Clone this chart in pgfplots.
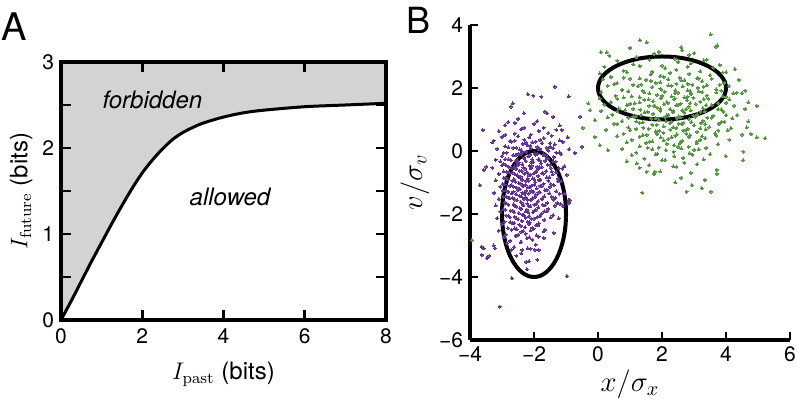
\documentclass[border=0pt]{standalone}
\usepackage{pgfplots}
\pgfplotsset{compat=1.18}
\usepackage{fontspec}
\setmainfont{TeX Gyre Heros}
\setmathrm{Latin Modern Roman}
\definecolor{clpurple}{RGB}{100,50,150}
\definecolor{clgreen}{RGB}{80,152,60}
\definecolor{clgray}{RGB}{211,211,211}

\pgfplotsset{
  every tick label/.append style={font=\fontsize{10.5}{12}\selectfont},
  /pgf/number format/assume math mode=true,
}

\begin{document}
\begin{tikzpicture}
% panel A
\begin{axis}[
    at={(30.5pt,40pt)}, anchor=south west,
    scale only axis, width=162.5pt, height=129pt,
    xmin=0, xmax=8, ymin=0, ymax=3,
    xtick={0,2,4,6,8}, ytick={0,1,2,3},
    minor ytick={0.5,1.5,2.5},
    axis on top,
    tick align=inside,
    major tick length=5pt, minor tick length=5pt,
    tick style={black, line width=1.4pt},
    axis line style={line width=2pt},
    xticklabel style={yshift=-1pt},
    xlabel={\fontsize{12}{14}\selectfont $I_\mathrm{past}$ (bits)},
    ylabel={\fontsize{12}{14}\selectfont $I_\mathrm{future}$ (bits)},
    xlabel style={yshift=-2pt},
    ylabel style={yshift=-2pt},
    clip=false,
]
% forbidden region
\addplot[fill=clgray, draw=none] coordinates {
    (0,0) (0.25,0.22) (0.5,0.45) (0.75,0.68) (1,0.9) (1.25,1.12) (1.5,1.33)
    (1.75,1.53) (2,1.71) (2.25,1.86) (2.5,1.99) (2.75,2.1) (3,2.18)
    (3.25,2.24) (3.5,2.29) (4,2.36) (4.5,2.41) (5,2.44) (6,2.48) (7,2.5)
    (8,2.52) (8,3) (0,3)
} -- cycle;
% bound
\addplot[black, line width=1.5pt, smooth] coordinates {
    (0,0) (0.25,0.22) (0.5,0.45) (0.75,0.68) (1,0.9) (1.25,1.12) (1.5,1.33)
    (1.75,1.53) (2,1.71) (2.25,1.86) (2.5,1.99) (2.75,2.1) (3,2.18)
    (3.25,2.24) (3.5,2.29) (4,2.36) (4.5,2.41) (5,2.44) (6,2.48) (7,2.5)
    (8,2.52)
};
\draw[black, line width=2pt] (rel axis cs:0,0) rectangle (rel axis cs:1,1);
\node[font=\fontsize{12}{14}\selectfont\itshape] at (axis cs:2.25,2.56) {forbidden};
\node[font=\fontsize{12}{14}\selectfont\itshape] at (axis cs:4.16,1.43) {allowed};
\end{axis}

% panel B
\begin{axis}[
    at={(235pt,30pt)}, anchor=south west,
    scale only axis, width=160pt, height=157.5pt,
    xmin=-4, xmax=6, ymin=-6, ymax=4,
    axis x line*=bottom, axis y line*=left,
    axis line style={line width=1.7pt, -},
    xtick={-4,-2,0,2,4,6}, ytick={-6,-4,-2,0,2,4},
    xticklabels={−4,−2,0,2,4,6}, yticklabels={−6,−4,−2,0,2,4},
    tick align=inside, major tick length=4pt,
    tick style={black, line width=1.4pt},
    xlabel={\fontsize{14}{16}\selectfont $x/\sigma_x$},
    ylabel={\fontsize{14}{16}\selectfont $v/\sigma_v$},
    xlabel style={yshift=3pt},
    ylabel style={yshift=-2pt},
    clip=false,
]
% cluster 1
\addplot[only marks, mark=*, mark size=0.75pt, color=clpurple, mark options={line width=0pt}] coordinates {
 (-2.5,1.02) (-1.9,0.95) (-1.4,1.08) (-2.8,0.92)
 (-2.9,0.82) (-2.3,0.73) (-2.0,0.86) (-1.7,0.74) (-1.2,0.81) (-2.6,0.89)
 (-3.1,0.63) (-2.6,0.55) (-2.4,0.69) (-2.1,0.52) (-1.85,0.64) (-1.55,0.57) (-1.3,0.67) (-2.9,0.51)
 (-3.0,0.45) (-2.75,0.31) (-2.5,0.47) (-2.3,0.36) (-2.15,0.43) (-1.95,0.3) (-1.7,0.41) (-1.45,0.49) (-1.2,0.34) (-0.95,0.44)
 (-3.3,0.27) (-2.9,0.15) (-2.7,0.29) (-2.55,0.11) (-2.35,0.23) (-2.2,0.18) (-2.05,0.28) (-1.9,0.13) (-1.75,0.25) (-1.6,0.1) (-1.35,0.21) (-1.1,0.29)
 (-3.15,0.07) (-2.85,-0.05) (-2.65,0.1) (-2.5,-0.09) (-2.4,0.03) (-2.25,-0.02) (-2.1,0.08) (-1.98,-0.07) (-1.85,0.05) (-1.7,-0.1) (-1.55,0.01) (-1.4,0.09) (-1.2,-0.04) (-0.9,0.06)
 (-3.2,-0.28) (-3.0,-0.16) (-2.8,-0.26) (-2.65,-0.13) (-2.52,-0.29) (-2.42,-0.11) (-2.3,-0.22) (-2.18,-0.17) (-2.06,-0.27) (-1.95,-0.12) (-1.82,-0.3) (-1.7,-0.14) (-1.55,-0.24) (-1.38,-0.19) (-1.15,-0.1)
 (-3.05,-0.33) (-2.88,-0.45) (-2.72,-0.3) (-2.6,-0.49) (-2.48,-0.37) (-2.36,-0.42) (-2.26,-0.32) (-2.14,-0.47) (-2.02,-0.35) (-1.9,-0.5) (-1.78,-0.39) (-1.65,-0.31) (-1.5,-0.44) (-1.32,-0.34) (-1.05,-0.48) (-2.95,-0.41)
 (-3.3,-0.53) (-2.95,-0.65) (-2.8,-0.5) (-2.66,-0.69) (-2.55,-0.57) (-2.45,-0.62) (-2.33,-0.52) (-2.22,-0.67) (-2.1,-0.55) (-2.0,-0.7) (-1.88,-0.59) (-1.76,-0.51) (-1.62,-0.64) (-1.48,-0.54) (-1.3,-0.68) (-1.12,-0.56)
 (-3.1,-0.73) (-2.9,-0.85) (-2.76,-0.7) (-2.63,-0.89) (-2.52,-0.77) (-2.41,-0.82) (-2.3,-0.72) (-2.2,-0.87) (-2.1,-0.75) (-1.99,-0.9) (-1.87,-0.79) (-1.75,-0.71) (-1.6,-0.84) (-1.42,-0.74) (-1.25,-0.88) (-0.98,-0.76)
 (-3.2,-0.93) (-2.98,-1.05) (-2.82,-0.9) (-2.7,-1.09) (-2.58,-0.97) (-2.47,-1.02) (-2.37,-0.92) (-2.27,-1.07) (-2.17,-0.95) (-2.07,-1.1) (-1.96,-0.99) (-1.84,-0.91) (-1.7,-1.04) (-1.55,-0.94) (-1.38,-1.08) (-1.15,-0.96)
 (-3.05,-1.13) (-2.88,-1.25) (-2.75,-1.1) (-2.64,-1.29) (-2.54,-1.17) (-2.44,-1.22) (-2.34,-1.12) (-2.24,-1.27) (-2.14,-1.15) (-2.03,-1.3) (-1.92,-1.19) (-1.8,-1.11) (-1.66,-1.24) (-1.5,-1.14) (-1.3,-1.28)
 (-3.25,-1.33) (-2.95,-1.45) (-2.8,-1.3) (-2.67,-1.49) (-2.56,-1.37) (-2.46,-1.42) (-2.36,-1.32) (-2.26,-1.47) (-2.16,-1.35) (-2.05,-1.5) (-1.94,-1.39) (-1.82,-1.31) (-1.68,-1.44) (-1.52,-1.34) (-1.33,-1.48) (-1.05,-1.36)
 (-3.1,-1.53) (-2.9,-1.65) (-2.76,-1.5) (-2.64,-1.69) (-2.53,-1.57) (-2.42,-1.62) (-2.32,-1.52) (-2.21,-1.67) (-2.1,-1.55) (-1.99,-1.7) (-1.87,-1.59) (-1.74,-1.51) (-1.58,-1.64) (-1.4,-1.54) (-1.18,-1.68) (-0.88,-1.56)
 (-3.2,-1.73) (-2.96,-1.85) (-2.8,-1.7) (-2.67,-1.89) (-2.55,-1.77) (-2.44,-1.82) (-2.33,-1.72) (-2.22,-1.87) (-2.11,-1.75) (-1.99,-1.9) (-1.86,-1.79) (-1.72,-1.71) (-1.55,-1.84) (-1.35,-1.74)
 (-3.05,-1.93) (-2.87,-2.05) (-2.73,-1.9) (-2.6,-2.09) (-2.48,-1.97) (-2.37,-2.02) (-2.26,-1.92) (-2.15,-2.07) (-2.03,-1.95) (-1.9,-2.1) (-1.76,-1.99) (-1.6,-1.91) (-1.4,-2.04)
 (-3.15,-2.13) (-2.92,-2.25) (-2.76,-2.1) (-2.62,-2.29) (-2.5,-2.17) (-2.38,-2.22) (-2.26,-2.12) (-2.13,-2.27) (-2.0,-2.15) (-1.85,-2.3) (-1.68,-2.19) (-1.48,-2.11)
 (-3.0,-2.33) (-2.82,-2.45) (-2.67,-2.3) (-2.54,-2.49) (-2.41,-2.37) (-2.28,-2.42) (-2.15,-2.32) (-2.01,-2.47) (-1.86,-2.35) (-1.66,-2.5)
 (-3.1,-2.53) (-2.88,-2.65) (-2.7,-2.5) (-2.55,-2.69) (-2.4,-2.57) (-2.26,-2.62) (-2.1,-2.52) (-1.92,-2.67) (-1.7,-2.55)
 (-2.95,-2.73) (-2.75,-2.85) (-2.57,-2.7) (-2.4,-2.89) (-2.22,-2.77) (-2.05,-2.82) (-1.85,-2.72)
 (-2.85,-2.93) (-2.62,-3.05) (-2.42,-2.9) (-2.2,-3.09) (-1.95,-2.97)
 (-2.7,-3.13) (-2.4,-3.25) (-2.1,-3.1)
 (-2.55,-3.33) (-1.9,-3.45)
 (-2.6,0.33) (-2.25,0.26) (-1.8,0.35) (-1.5,0.24)
 (-2.8,0.12) (-2.45,0.05) (-2.12,0.16) (-1.82,0.07) (-1.5,0.13)
 (-2.95,-0.06) (-2.58,-0.14) (-2.35,-0.03) (-2.12,-0.12) (-1.9,-0.08) (-1.62,-0.15) (-1.3,-0.05)
 (-2.9,-0.26) (-2.55,-0.34) (-2.31,-0.24) (-2.08,-0.35) (-1.86,-0.27) (-1.6,-0.22) (-1.4,-0.33)
 (-3.0,-0.46) (-2.7,-0.54) (-2.5,-0.44) (-2.28,-0.56) (-2.07,-0.47) (-1.84,-0.52) (-1.57,-0.43) (-1.22,-0.55)
 (-2.85,-0.66) (-2.6,-0.74) (-2.38,-0.64) (-2.16,-0.75) (-1.94,-0.67) (-1.7,-0.72) (-1.45,-0.65)
 (-2.95,-0.86) (-2.68,-0.94) (-2.46,-0.84) (-2.25,-0.95) (-2.04,-0.87) (-1.8,-0.92) (-1.52,-0.83) (-1.25,-0.96)
 (-2.92,-1.06) (-2.64,-1.14) (-2.41,-1.04) (-2.2,-1.15) (-1.99,-1.07) (-1.76,-1.12) (-1.48,-1.05)
 (-2.98,-1.26) (-2.7,-1.34) (-2.49,-1.24) (-2.29,-1.35) (-2.09,-1.27) (-1.87,-1.32) (-1.6,-1.23) (-1.2,-1.36)
 (-2.85,-1.46) (-2.6,-1.54) (-2.4,-1.44) (-2.2,-1.55) (-1.98,-1.47) (-1.75,-1.52) (-1.45,-1.45)
 (-2.88,-1.66) (-2.6,-1.74) (-2.38,-1.64) (-2.16,-1.75) (-1.93,-1.67) (-1.65,-1.72) (-1.28,-1.65)
 (-2.9,-1.86) (-2.62,-1.94) (-2.4,-1.84) (-2.18,-1.95) (-1.95,-1.87) (-1.68,-1.92)
 (-2.8,-2.06) (-2.55,-2.14) (-2.32,-2.04) (-2.08,-2.15) (-1.82,-2.07)
 (-2.75,-2.26) (-2.46,-2.34) (-2.2,-2.24) (-1.93,-2.35)
 (-2.6,-2.46) (-2.33,-2.54) (-2.05,-2.44)
 (-2.5,-2.66) (-2.15,-2.74)
 (-1.35,2.04) (-2.19,1.80) (-2.03,1.76) (-1.77,1.72) (-0.92,1.74) (-2.66,1.51) (-2.72,1.41)
 (-3.6,0.67) (-3.26,0.33) (-0.56,1.09) (-0.72,-0.06) (-0.5,0.14) (-1.13,0.67) (-1.66,1.25)
 (-1.6,1.2) (-2.32,1.2) (-3.57,-0.6) (-3.5,-0.5) (-3.69,-1.08) (-3.07,-4.94) (-2.69,-4.04)
 (-0.97,-3.97) (-2.22,-3.76) (-2.15,-3.5) (-2.24,-3.52) (-3.63,-3.3) (-3.47,-3.4) (-3.4,-3.33)
 (-3.57,-3.09) (-0.92,-1.56) (-0.92,-1.65) (-1.1,-1.75) (-1.23,-2.14) (-1.38,-2.6) (-1.7,-2.76)
 (-1.85,-3.14) (-1.97,-3.14) (-2.37,-3.14) (-3.22,-3.08) (-3.26,-3.0) (-3.64,-3.04)
};
% cluster 2
\addplot[only marks, mark=*, mark size=0.75pt, color=clgreen, mark options={line width=0pt}] coordinates {
 (1.0,3.27) (1.9,3.15) (2.6,3.3) (3.0,3.11)
 (0.35,3.03) (1.2,2.98) (1.75,3.08) (2.4,2.93) (2.85,3.05) (3.4,2.9)
 (0.6,2.87) (1.1,2.75) (1.6,2.9) (2.0,2.71) (2.5,2.83) (2.9,2.78) (3.3,2.88) (3.8,2.73)
 (0.2,2.67) (0.8,2.55) (1.3,2.7) (1.7,2.51) (2.1,2.63) (2.45,2.58) (2.8,2.68) (3.2,2.53) (3.6,2.65) (4.0,2.5)
 (0.05,2.47) (0.4,2.35) (0.9,2.5) (1.3,2.31) (1.65,2.43) (1.95,2.38) (2.25,2.48) (2.55,2.33) (2.85,2.45) (3.15,2.3) (3.5,2.41) (3.9,2.49)
 (0.15,2.27) (0.6,2.15) (1.0,2.3) (1.35,2.11) (1.65,2.23) (1.95,2.18) (2.2,2.28) (2.45,2.13) (2.7,2.25) (2.95,2.1) (3.25,2.21) (3.55,2.29) (3.95,2.16) (4.4,2.26)
 (0.3,2.07) (0.75,1.95) (1.1,2.1) (1.4,1.91) (1.7,2.03) (1.95,1.98) (2.2,2.08) (2.42,1.93) (2.65,2.05) (2.88,1.9) (3.12,2.01) (3.4,2.09) (3.7,1.96) (4.1,2.06) (4.6,1.92)
 (0.1,1.87) (0.55,1.75) (0.95,1.9) (1.3,1.71) (1.6,1.83) (1.85,1.78) (2.08,1.88) (2.3,1.73) (2.5,1.85) (2.7,1.7) (2.92,1.81) (3.15,1.89) (3.4,1.76) (3.7,1.86) (4.0,1.72) (4.5,1.84)
 (0.05,1.67) (0.4,1.55) (0.8,1.7) (1.15,1.51) (1.45,1.63) (1.72,1.58) (1.96,1.68) (2.18,1.53) (2.38,1.65) (2.58,1.5) (2.78,1.61) (2.98,1.69) (3.2,1.56) (3.45,1.66) (3.75,1.52) (4.1,1.64) (4.7,1.54)
 (0.2,1.47) (0.65,1.35) (1.0,1.5) (1.32,1.31) (1.6,1.43) (1.85,1.38) (2.06,1.48) (2.26,1.33) (2.45,1.45) (2.64,1.3) (2.84,1.41) (3.05,1.49) (3.28,1.36) (3.55,1.46) (3.85,1.32) (4.25,1.44) (4.6,1.34)
 (0.1,1.27) (0.45,1.15) (0.85,1.3) (1.18,1.11) (1.46,1.23) (1.72,1.18) (1.95,1.28) (2.15,1.13) (2.34,1.25) (2.52,1.1) (2.7,1.21) (2.9,1.29) (3.1,1.16) (3.33,1.26) (3.6,1.12) (3.92,1.24) (4.35,1.14)
 (0.3,1.07) (0.75,0.95) (1.1,1.1) (1.4,0.91) (1.66,1.03) (1.9,0.98) (2.1,1.08) (2.3,0.93) (2.48,1.05) (2.66,0.9) (2.85,1.01) (3.05,1.09) (3.28,0.96) (3.55,1.06) (3.85,0.92) (4.2,1.04) (4.7,0.94)
 (0.5,0.87) (0.95,0.75) (1.3,0.9) (1.58,0.71) (1.83,0.83) (2.05,0.78) (2.25,0.88) (2.44,0.73) (2.62,0.85) (2.8,0.7) (3.0,0.81) (3.22,0.89) (3.48,0.76) (3.78,0.86) (4.15,0.72)
 (0.25,0.67) (0.8,0.55) (1.2,0.7) (1.52,0.51) (1.8,0.63) (2.04,0.58) (2.26,0.68) (2.46,0.53) (2.66,0.65) (2.87,0.5) (3.1,0.61) (3.36,0.69) (3.66,0.56) (4.05,0.66) (4.5,0.52)
 (0.6,0.47) (1.05,0.35) (1.4,0.5) (1.7,0.31) (1.96,0.43) (2.2,0.38) (2.42,0.48) (2.63,0.33) (2.85,0.45) (3.08,0.3) (3.35,0.41) (3.7,0.49) (4.1,0.36)
 (0.9,0.27) (1.3,0.15) (1.62,0.3) (1.9,0.11) (2.15,0.23) (2.38,0.18) (2.6,0.28) (2.83,0.13) (3.08,0.25) (3.38,0.1) (3.75,0.21)
 (0.75,0.07) (1.2,-0.05) (1.55,0.1) (1.85,-0.09) (2.12,0.03) (2.36,-0.02) (2.6,0.08) (2.86,-0.07) (3.15,0.05) (3.5,-0.1)
 (1.05,-0.13) (1.45,-0.25) (1.8,-0.1) (2.1,-0.29) (2.38,-0.17) (2.66,-0.22) (2.95,-0.12) (3.3,-0.27)
 (0.9,-0.33) (1.6,-0.45) (2.0,-0.3) (2.35,-0.49) (2.7,-0.37) (3.1,-0.42)
 (1.3,-0.53) (1.95,-0.65) (2.45,-0.5) (2.9,-0.69)
 (1.75,-0.73) (2.6,-0.85)
 (0.8,2.33) (1.5,2.26) (2.05,2.35) (2.6,2.24) (3.1,2.31)
 (0.5,2.12) (1.25,2.05) (1.8,2.16) (2.3,2.07) (2.8,2.13) (3.3,2.04) (3.8,2.11)
 (0.75,1.94) (1.45,1.86) (1.98,1.95) (2.4,1.84) (2.8,1.93) (3.25,1.87) (3.85,1.92)
 (0.6,1.66) (1.05,1.74) (1.58,1.64) (2.0,1.75) (2.4,1.67) (2.8,1.72) (3.3,1.65) (3.9,1.73)
 (0.9,1.46) (1.3,1.54) (1.75,1.44) (2.15,1.55) (2.5,1.47) (2.88,1.52) (3.38,1.45) (4.0,1.53)
 (0.6,1.26) (1.1,1.34) (1.55,1.24) (1.95,1.35) (2.35,1.27) (2.75,1.32) (3.2,1.25) (3.75,1.33)
 (0.95,1.06) (1.35,1.14) (1.8,1.04) (2.2,1.15) (2.58,1.07) (2.98,1.12) (3.42,1.05) (4.0,1.13)
 (0.6,0.86) (1.2,0.94) (1.7,0.84) (2.12,0.95) (2.52,0.87) (2.92,0.92) (3.35,0.85) (3.95,0.93)
 (1.0,0.66) (1.42,0.74) (1.92,0.64) (2.35,0.75) (2.75,0.67) (3.2,0.72) (3.75,0.65)
 (1.3,0.46) (1.85,0.54) (2.3,0.44) (2.76,0.55) (3.25,0.47)
 (1.5,0.26) (2.05,0.34) (2.55,0.24) (3.2,0.35)
 (1.7,0.06) (2.5,0.14) (3.0,0.04)
 (1.31,3.52) (1.52,3.45) (0.09,3.13) (0.27,3.13) (2.63,3.2) (-0.3,1.51) (-0.25,1.3) (-0.1,0.98)
 (0.06,0.19) (0.31,0.03) (1.39,-1.32) (2.41,-1.0) (1.21,-0.39) (1.52,-0.66) (1.78,-0.66)
 (3.52,3.7) (3.68,3.31) (3.72,3.35) (4.28,2.59) (4.33,1.85) (4.23,1.83) (4.96,1.43) (5.22,0.4)
 (4.96,0.43) (4.65,0.75) (4.78,0.54) (4.54,-0.02) (4.54,-0.29) (3.99,-0.16) (3.71,-0.6)
 (3.71,-0.73) (3.53,-1.29) (3.24,-1.18) (2.93,-1.08) (2.77,-1.29) (3.34,-0.92) (-3.94,-2.83)
 (-0.48,0.73) (-0.1,0.45)
};
\draw[black, line width=2pt] (axis cs:-2,-2) ellipse [x radius=1, y radius=2];
\draw[black, line width=2pt] (axis cs:2,2) ellipse [x radius=2, y radius=1];
\end{axis}

\node[font=\fontsize{19}{22}\selectfont] at (7pt,186.5pt) {A};
\node[font=\fontsize{18}{21}\selectfont] at (209pt,190pt) {B};
\pgfresetboundingbox
\path[use as bounding box] (0,0) rectangle (398pt,200pt);
\end{tikzpicture}
\end{document}
